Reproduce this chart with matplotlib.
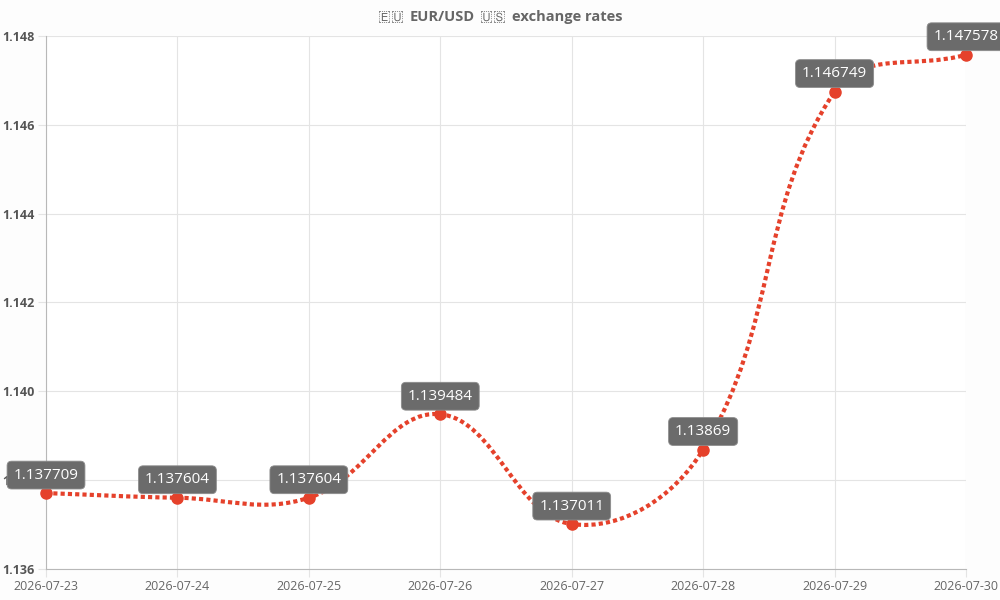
"""EUR/USD exchange rates line chart with value labels."""

import matplotlib

matplotlib.use("Agg")
import matplotlib.pyplot as plt
import numpy as np
from matplotlib.offsetbox import AnchoredOffsetbox, HPacker, TextArea
from matplotlib.patches import PathPatch
from matplotlib.path import Path

# Chart data
dates = [
    "2026-07-23", "2026-07-24", "2026-07-25", "2026-07-26",
    "2026-07-27", "2026-07-28", "2026-07-29", "2026-07-30",
]
rates = [1.137709, 1.137604, 1.137604, 1.139484, 1.137011, 1.13869, 1.146749, 1.147578]
rate_labels = ["1.137709", "1.137604", "1.137604", "1.139484",
               "1.137011", "1.13869", "1.146749", "1.147578"]
y_ticks = [1.136, 1.138, 1.140, 1.142, 1.144, 1.146, 1.148]
title_parts = ["\U0001F1EA\U0001F1FA", "EUR/USD", "\U0001F1FA\U0001F1F8", "exchange rates"]

LINE_COLOR = "#e5412b"
TEXT_COLOR = "#666666"
GRID_COLOR = "#e4e4e4"
TENSION = 0.4

plt.rcParams["font.family"] = ["Open Sans", "DejaVu Sans"]

fig = plt.figure(figsize=(10, 6), dpi=100)
ax = fig.add_axes([0.046, 0.0517, 0.92, 0.8883])
ax.set_xlim(0, len(dates) - 1)
ax.set_ylim(y_ticks[0], y_ticks[-1])

# Grid and axes styling
ax.set_yticks(y_ticks)
ax.set_yticklabels([f"{t:.3f}" for t in y_ticks], fontweight="bold", fontsize=9,
                   color="#555555")
ax.set_xticks(range(len(dates)))
ax.set_xticklabels(dates, fontsize=9, color=TEXT_COLOR)
ax.tick_params(axis="both", length=6, color=GRID_COLOR, pad=2)
ax.grid(True, color=GRID_COLOR, linewidth=0.8)
ax.set_axisbelow(True)
for side in ("top", "right"):
    ax.spines[side].set_visible(False)
for side in ("left", "bottom"):
    ax.spines[side].set_color("#b8b8b8")
    ax.spines[side].set_linewidth(0.8)
ax.set_facecolor("white")

# Smooth curve: Chart.js-style bezier control points, computed in pixel space
xs = np.arange(len(rates), dtype=float)
pts = ax.transData.transform(np.column_stack([xs, rates]))
n = len(pts)
cp_prev = np.zeros_like(pts)
cp_next = np.zeros_like(pts)
for i in range(n):
    prev = pts[i - 1] if i > 0 else pts[i]
    nxt = pts[i + 1] if i < n - 1 else pts[i]
    d01 = np.hypot(*(pts[i] - prev))
    d12 = np.hypot(*(nxt - pts[i]))
    total = d01 + d12
    s01 = d01 / total if total else 0
    s12 = d12 / total if total else 0
    cp_prev[i] = pts[i] - TENSION * s01 * (nxt - prev)
    cp_next[i] = pts[i] + TENSION * s12 * (nxt - prev)

verts = [pts[0]]
codes = [Path.MOVETO]
for i in range(n - 1):
    verts += [cp_next[i], cp_prev[i + 1], pts[i + 1]]
    codes += [Path.CURVE4] * 3
verts = ax.transData.inverted().transform(np.array(verts))
curve = PathPatch(Path(verts, codes), facecolor="none", edgecolor=LINE_COLOR,
                  linewidth=3, linestyle=(0, (1.0, 0.75)), capstyle="butt",
                  zorder=3)
ax.add_patch(curve)

ax.plot(xs, rates, linestyle="none", marker="o", markersize=8,
        color=LINE_COLOR, zorder=4, clip_on=False)

# Value labels
for x, y, label in zip(xs, rates, rate_labels):
    ax.annotate(label, (x, y), xytext=(0, 18), textcoords="offset pixels",
                ha="center", va="center", fontsize=11, color="white",
                annotation_clip=False, zorder=5,
                bbox=dict(boxstyle="round,pad=0.42,rounding_size=0.3",
                          facecolor="#6b6b6b", edgecolor="#8c8c8c",
                          linewidth=0.6))

# Title: the flag characters come from FreeSans (regular only), the words are bold
flag_props = dict(fontsize=10.5, color=TEXT_COLOR, family=["FreeSans", "DejaVu Sans"])
word_props = dict(fontsize=10.5, color=TEXT_COLOR, fontweight="bold")
boxes = [
    TextArea(part, textprops=flag_props if i % 2 == 0 else word_props)
    for i, part in enumerate(title_parts)
]
title_box = AnchoredOffsetbox(
    loc="center", child=HPacker(children=boxes, align="baseline", pad=0, sep=4),
    bbox_to_anchor=(0.5, 0.971), bbox_transform=fig.transFigure,
    frameon=False, pad=0, borderpad=0,
)
fig.add_artist(title_box)

fig.savefig("out.png", dpi=100, facecolor="#fdfdfd")
